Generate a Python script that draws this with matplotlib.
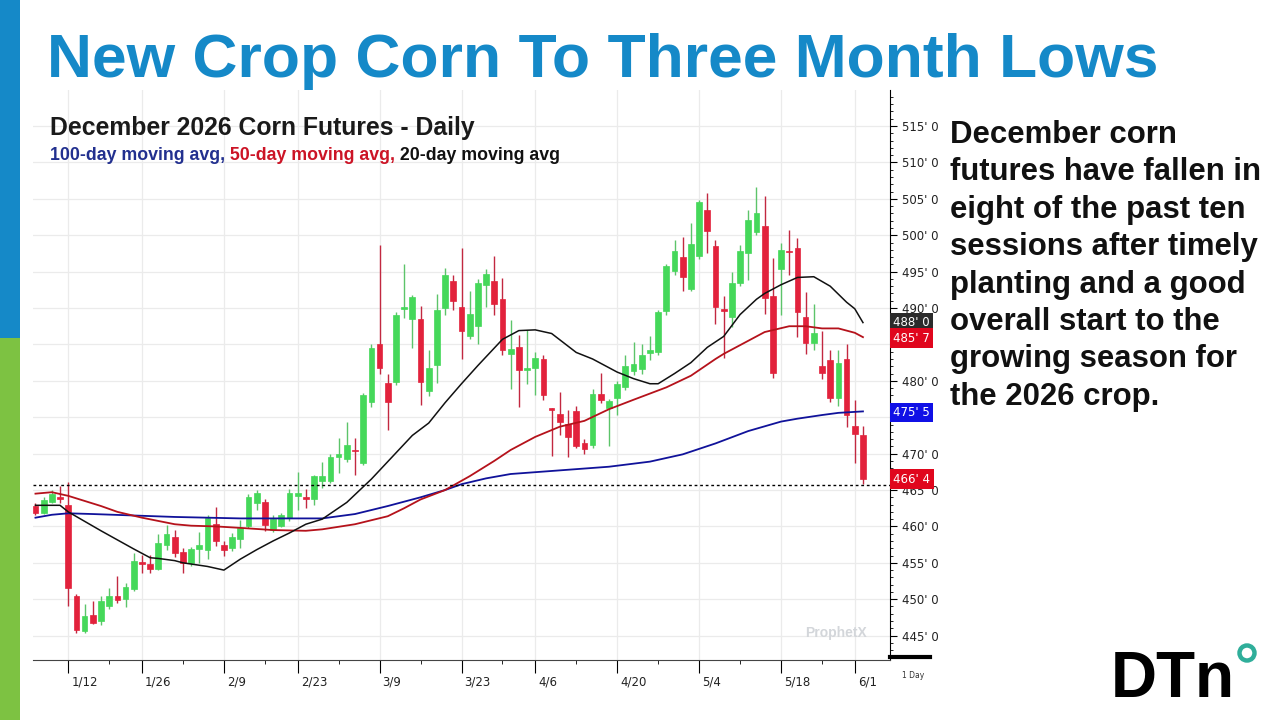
import matplotlib
matplotlib.use("Agg")
import matplotlib.pyplot as plt
import matplotlib.transforms as mtransforms
from matplotlib.patches import Rectangle, Circle
from matplotlib.lines import Line2D
from matplotlib.ticker import FixedLocator, MultipleLocator
import pandas as pd

# ---------------- data ----------------
holidays = ["2026-01-19", "2026-02-16", "2026-04-03", "2026-05-25"]
dates = pd.bdate_range("2026-01-06", "2026-06-02", freq="C", holidays=holidays)

opens = [462.8, 461.8, 463.4, 463.9, 463.0, 450.5, 445.6, 447.8, 447.0, 449.1,
         450.5, 450.0, 451.4, 455.1, 454.9, 454.1, 457.4, 458.6, 456.5, 455.0,
         456.9, 456.7, 460.4, 457.5, 457.0, 458.3, 460.0, 463.2, 463.4, 459.5,
         460.1, 461.1, 464.2, 464.0, 463.8, 466.3, 466.3, 469.5, 469.2, 470.5,
         468.7, 477.1, 485.0, 479.7, 479.9, 489.9, 488.5, 488.5, 478.6, 482.2,
         490.0, 493.7, 490.2, 486.2, 487.5, 493.1, 493.7, 491.2, 483.7, 484.6,
         481.5, 481.7, 483.0, 476.2, 475.5, 474.1, 475.8, 471.5, 471.2, 478.2,
         476.2, 477.6, 479.2, 481.3, 481.6, 483.8, 484.0, 489.6, 495.1, 497.0,
         492.6, 497.1, 503.5, 498.5, 489.8, 488.7, 493.4, 497.6, 500.4, 501.3,
         491.6, 495.4, 497.9, 498.3, 488.8, 485.2, 482.0, 482.9, 477.7, 483.0,
         473.8, 472.5]
highs = [463.2, 464.1, 465.0, 465.5, 466.1, 450.7, 449.3, 449.8, 450.5, 451.6,
         453.2, 452.2, 456.4, 456.1, 456.1, 458.9, 460.2, 459.5, 457.0, 457.2,
         459.3, 461.5, 462.7, 458.0, 459.1, 460.9, 464.5, 465.0, 463.7, 461.6,
         461.9, 465.2, 467.5, 465.1, 467.0, 468.9, 470.0, 472.1, 474.3, 472.2,
         478.3, 485.0, 498.6, 480.9, 489.4, 496.0, 491.8, 490.3, 484.3, 491.9,
         495.5, 494.6, 498.2, 492.3, 494.0, 495.3, 497.1, 494.1, 488.4, 486.3,
         487.0, 484.0, 483.5, 476.3, 478.5, 476.0, 476.5, 472.0, 478.9, 481.1,
         477.5, 480.0, 483.5, 485.3, 485.1, 486.1, 489.7, 496.0, 499.4, 499.7,
         501.7, 504.8, 505.8, 499.4, 491.7, 495.0, 498.6, 503.4, 506.6, 505.4,
         496.9, 499.0, 500.7, 499.6, 492.2, 490.5, 486.9, 484.3, 484.2, 485.1,
         477.3, 473.8]
lows = [461.5, 461.7, 463.2, 463.2, 449.0, 445.4, 445.3, 446.6, 446.4, 448.6,
        449.5, 448.9, 451.1, 453.6, 453.6, 454.0, 456.8, 455.8, 453.6, 454.6,
        455.0, 455.5, 457.3, 455.9, 456.6, 457.0, 459.8, 462.3, 459.4, 459.2,
        459.9, 460.8, 462.3, 462.5, 463.0, 465.3, 466.0, 467.3, 468.9, 467.0,
        468.5, 476.4, 480.9, 473.3, 479.4, 488.6, 484.5, 476.7, 477.9, 479.7,
        489.0, 489.7, 483.0, 485.8, 485.1, 490.2, 489.1, 483.5, 478.9, 476.4,
        479.6, 478.0, 477.4, 469.7, 472.5, 469.5, 470.8, 470.0, 470.8, 476.9,
        471.0, 475.3, 478.8, 480.8, 481.0, 482.8, 483.6, 489.0, 494.5, 492.4,
        492.3, 496.8, 497.6, 487.8, 483.2, 487.4, 493.0, 493.9, 500.0, 489.2,
        480.4, 489.0, 494.5, 486.0, 483.7, 484.2, 480.2, 477.1, 476.6, 473.7,
        468.7, 465.8]
closes = [461.8, 463.6, 464.4, 463.8, 451.6, 445.8, 447.7, 446.8, 449.8, 450.5,
          449.9, 451.7, 455.2, 454.9, 454.2, 457.7, 459.0, 456.3, 455.0, 456.9,
          457.5, 461.1, 458.0, 456.7, 458.5, 459.8, 464.1, 464.6, 460.2, 461.0,
          461.6, 464.6, 464.6, 463.8, 466.9, 466.9, 469.5, 470.0, 471.2, 470.3,
          478.0, 484.5, 481.8, 477.1, 489.0, 490.1, 491.5, 479.9, 481.8, 489.7,
          494.6, 491.0, 486.8, 489.2, 493.5, 494.7, 490.5, 484.2, 484.4, 481.5,
          481.7, 483.2, 478.1, 476.0, 474.4, 472.3, 471.1, 470.7, 478.2, 477.4,
          477.2, 479.6, 482.0, 482.3, 483.6, 484.3, 489.5, 495.8, 497.8, 494.3,
          498.8, 504.5, 500.6, 490.1, 489.6, 493.5, 497.9, 502.1, 503.0, 491.4,
          481.1, 498.0, 497.7, 489.5, 485.2, 486.6, 481.1, 477.7, 482.4, 475.3,
          472.7, 466.5]

ma20_idx = [0, 3, 4, 8, 12, 14, 15, 17, 18, 21, 23, 25, 27, 29, 31, 33, 35, 38, 41,
            44, 46, 48, 50, 52, 54, 57, 59, 61, 63, 66, 68, 71, 73, 75, 76, 78, 80,
            82, 84, 86, 88, 89, 91, 93, 95, 97, 99, 100, 101]
ma20_val = [462.9, 462.9, 462.0, 459.4, 456.9, 455.7, 455.6, 455.3, 455.0, 454.5,
            454.0, 455.5, 456.8, 458.0, 459.1, 460.3, 461.0, 463.3, 466.5, 470.1,
            472.5, 474.2, 477.0, 479.6, 482.1, 485.7, 486.9, 487.0, 486.5, 483.9,
            483.0, 481.2, 480.3, 479.6, 479.6, 481.0, 482.5, 484.6, 486.1, 489.1,
            491.2, 492.0, 493.2, 494.2, 494.3, 493.0, 490.8, 489.9, 488.0]

ma50_idx = [0, 2, 4, 6, 8, 10, 13, 17, 19, 22, 25, 29, 33, 35, 39, 43, 45, 47, 50,
            53, 56, 58, 61, 64, 67, 70, 73, 77, 80, 83, 84, 86, 89, 92, 94, 96, 98,
            100, 101]
ma50_val = [464.5, 464.7, 464.2, 463.5, 462.8, 462.0, 461.2, 460.3, 460.1, 460.0,
            459.8, 459.5, 459.4, 459.6, 460.3, 461.4, 462.5, 463.7, 465.0, 466.9,
            469.0, 470.5, 472.3, 473.7, 474.5, 476.1, 477.4, 479.1, 480.7, 483.0,
            483.7, 484.9, 486.7, 487.5, 487.5, 487.2, 487.2, 486.6, 486.0]

ma100_idx = [0, 2, 4, 7, 12, 17, 21, 25, 29, 33, 35, 39, 43, 47, 50, 52, 55, 58,
             64, 70, 75, 79, 83, 87, 91, 93, 96, 98, 101]
ma100_val = [461.2, 461.6, 461.8, 461.7, 461.5, 461.3, 461.2, 461.1, 461.1, 461.1,
             461.1, 461.7, 462.8, 464.0, 465.0, 465.8, 466.6, 467.2, 467.7, 468.2,
             468.9, 469.9, 471.4, 473.1, 474.4, 474.8, 475.3, 475.6, 475.8]

date_labels = ["1/12", "1/26", "2/9", "2/23", "3/9", "3/23", "4/6", "4/20", "5/4", "5/18", "6/1"]
price_ticks = [445, 450, 455, 460, 465, 470, 475, 480, 485, 490, 495, 500, 505, 510, 515]
hidden_tick_labels = [475, 485]   # covered by the price tags in the reference
last_low = 465.75
tag_values = [488.0, 485.875, 475.625, 466.5]
tag_colors = ["#2b2b2b", "#e0061d", "#1010e6", "#e0061d"]

title = "New Crop Corn To Three Month Lows"
chart_title = "December 2026 Corn Futures - Daily"
legend_parts = ["100-day moving avg,", " 50-day moving avg,", " 20-day moving avg"]
legend_colors = ["#22308f", "#cc1426", "#111111"]
body_lines = ["December corn", "futures have fallen in", "eight of the past ten",
              "sessions after timely", "planting and a good", "overall start to the",
              "growing season for", "the 2026 crop."]

# ---------------- helpers ----------------
W, H = 1280, 720
fig = plt.figure(figsize=(12.8, 7.2), dpi=100)
fig.patch.set_facecolor("white")
renderer = fig.canvas.get_renderer()
FONT = "Liberation Sans"


def fx(px):
    return px / W


def fy(py):
    return 1 - py / H


def text_width(s, size, weight="bold", family=FONT):
    t = fig.text(0, 0, s, fontsize=size, fontweight=weight, family=family)
    w = t.get_window_extent(renderer).width
    t.remove()
    return w


def fit_size(s, target_px, weight="bold", family=FONT):
    return 20 * target_px / text_width(s, 20, weight, family)


def fmt_price(v):
    whole = int(v)
    eighths = int(round((v - whole) * 8))
    return f"{whole}' {eighths}"


# ---------------- left bar ----------------
fig.add_artist(Rectangle((0, fy(338)), fx(20), 338 / H, transform=fig.transFigure,
                         color="#1589c8", lw=0))
fig.add_artist(Rectangle((0, 0), fx(20), fy(338), transform=fig.transFigure,
                         color="#7dc242", lw=0))

# ---------------- title ----------------
fig.text(fx(47), fy(77), title, fontsize=fit_size(title, 1111), fontweight="bold",
         family=FONT, color="#1589c8", va="baseline", ha="left")

# ---------------- chart axes ----------------
ax = fig.add_axes([fx(33), 60 / H, 857 / W, 570 / H])
ax.set_facecolor("white")
n = len(closes)
GREEN, RED = "#45d85a", "#e2223c"
GREEN_W, RED_W = "#5cc46a", "#c22840"
for i in range(n):
    o, h, l, c = opens[i], highs[i], lows[i], closes[i]
    up = c >= o
    col = GREEN if up else RED
    ax.vlines(i, l, h, color=GREEN_W if up else RED_W, lw=1.0, zorder=2)
    body = max(abs(c - o), 0.18)
    ax.bar(i, body, bottom=min(o, c), width=0.7, color=col, edgecolor=col,
           lw=0.5, zorder=3)

ax.plot(ma100_idx, ma100_val, color="#10129a", lw=1.3, zorder=4)
ax.plot(ma50_idx, ma50_val, color="#b5121b", lw=1.3, zorder=4)
ax.plot(ma20_idx, ma20_val, color="#111111", lw=1.1, zorder=4)
ax.axhline(last_low, color="black", lw=1.0, ls=(0, (2, 2)), zorder=5)

ax.set_xlim(-0.3, 104.3)
ax.set_ylim(441.65, 519.95)

for s in ["left", "top"]:
    ax.spines[s].set_visible(False)
ax.spines["right"].set_color("black")
ax.spines["bottom"].set_color("#444444")

# y axis on right
ax.yaxis.tick_right()
ax.set_yticks(price_ticks)
ax.set_yticklabels(["" if v in hidden_tick_labels else fmt_price(v) for v in price_ticks])
ax.yaxis.set_minor_locator(MultipleLocator(1))
ax.tick_params(axis="y", which="major", length=5, width=0.8, labelsize=8.5,
               labelcolor="#222222", pad=4, direction="out")
ax.tick_params(axis="y", which="minor", length=2.5, width=0.6, direction="out")

# x axis ticks at date labels
date_strs = [f"{d.month}/{d.day}" for d in dates]
label_idx = [date_strs.index(s) for s in date_labels]
ax.set_xticks(label_idx)
ax.set_xticklabels(date_labels, ha="left")
monday_idx = [i for i, d in enumerate(dates) if d.weekday() == 0 or
              (i > 0 and (d - dates[i - 1]).days > 3)]
ax.xaxis.set_minor_locator(FixedLocator(monday_idx))
ax.tick_params(axis="x", which="major", length=9, width=0.8, labelsize=8.5,
               labelcolor="#222222", pad=2)
ax.tick_params(axis="x", which="minor", length=3, width=0.6)
offset = mtransforms.ScaledTranslation(0.03, 0, fig.dpi_scale_trans)
for lab in ax.get_xticklabels():
    lab.set_transform(lab.get_transform() + offset)

ax.grid(True, which="major", color="#ebebeb", lw=0.9, zorder=0)
ax.set_axisbelow(True)

# price tags on the right axis
blend = mtransforms.blended_transform_factory(ax.transAxes, ax.transData)
for v, c in zip(tag_values, tag_colors):
    ax.text(1.004, v, fmt_price(v), transform=blend, ha="left", va="center",
            fontsize=8.5, color="white", zorder=10, clip_on=False,
            bbox=dict(boxstyle="square,pad=0.28", fc=c, ec="none"))

# bottom-right decorations of the price panel
fig.add_artist(Line2D([fx(890), fx(930)], [fy(657), fy(657)], lw=3, color="black",
                      transform=fig.transFigure))
fig.text(fx(902), fy(675), "1 Day", fontsize=5.5, color="#333333", va="center")

# watermark
fig.text(fx(805), fy(633), "ProphetX", fontsize=10, fontweight="bold",
         color="#d3d6da", va="center", family=FONT)

# chart title & moving-average legend
fig.text(fx(50), fy(128), chart_title, fontsize=fit_size(chart_title, 426),
         fontweight="bold", family=FONT, color="#1a1a1a", va="center")
leg_size = fit_size("".join(legend_parts), 507)
x0 = 50
prefix = ""
for part, col in zip(legend_parts, legend_colors):
    xpos = x0 + (text_width(prefix, leg_size) if prefix else 0)
    fig.text(fx(xpos), fy(155), part, fontsize=leg_size, fontweight="bold",
             family=FONT, color=col, va="center")
    prefix += part

# right-hand commentary
body_size = fit_size("futures have fallen in", 312)
for k, line in enumerate(body_lines):
    fig.text(fx(950), fy(143 + 37.4 * k), line, fontsize=body_size,
             fontweight="bold", family=FONT, color="#111111", va="baseline")

# DTN logo
fig.text(fx(1111), fy(697), "DTn", fontsize=fit_size("DTn", 124), fontweight="bold",
         family=FONT, color="black", va="baseline")
fig.add_artist(Circle((12.47, (720 - 653) / 100), 0.075, transform=fig.dpi_scale_trans,
                      fill=False, ec="#2fae9a", lw=3.2))

fig.savefig("out.png", dpi=100, facecolor="white")
